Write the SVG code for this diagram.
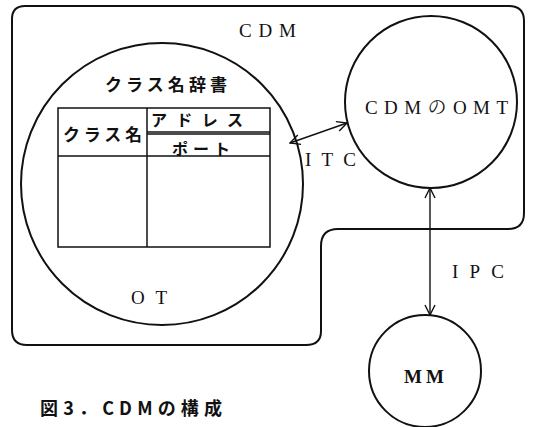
<svg xmlns="http://www.w3.org/2000/svg" width="533" height="427" viewBox="0 0 533 427">
<defs>
<style>
.ln{fill:none;stroke:#111;stroke-width:2;stroke-linecap:round;stroke-linejoin:round}
.tb{fill:none;stroke:#111;stroke-width:1.5}
.ar{fill:none;stroke:#111;stroke-width:1.4}
.lat{font-family:"Liberation Serif","Noto Serif CJK JP","Noto Sans CJK JP",serif;fill:#111}
.jp{font-family:"Noto Sans CJK JP","Noto Sans CJK SC",sans-serif;font-weight:bold;fill:#111}
</style>
<marker id="ah" viewBox="0 0 12 12" refX="11" refY="6" markerWidth="12" markerHeight="12" markerUnits="userSpaceOnUse" orient="auto-start-reverse">
<path d="M1,1 L11,6 L1,11" fill="none" stroke="#111" stroke-width="1.4"/>
</marker>
</defs>
<rect width="533" height="427" fill="#fff"/>
<g id="cdm">
<path class="ln" d="M25,6 H509 Q524,6 524,21 V213 Q524,229 508,229 H338 Q321,229 321,246 V331 Q321,345 306,345 H27 Q12,345 12,330 V19 Q12,6 25,6 Z"/>
<text class="lat" x="239" y="37" font-size="19" textLength="57" lengthAdjust="spacing">CDM</text>
</g>
<g id="ot">
<circle class="ln" cx="162" cy="184" r="141"/>
<text class="jp" x="105" y="91" font-size="17" textLength="122" lengthAdjust="spacing">クラス名辞書</text>
<g id="table">
<rect class="tb" x="58" y="108" width="212" height="139"/>
<line class="tb" x1="147" y1="108" x2="147" y2="247"/>
<line class="tb" x1="147" y1="132" x2="270" y2="132"/>
<line class="tb" x1="147" y1="134" x2="270" y2="134"/>
<line class="tb" x1="58" y1="156" x2="270" y2="156"/>
<text class="jp" x="63" y="141" font-size="17" textLength="79" lengthAdjust="spacing">クラス名</text>
<text class="jp" x="151" y="126" font-size="16" textLength="92" lengthAdjust="spacing">アドレス</text>
<text class="jp" x="172" y="155" font-size="16" textLength="58" lengthAdjust="spacing">ポート</text>
</g>
<text class="lat" x="131" y="304" font-size="19" textLength="36" lengthAdjust="spacing">OT</text>
</g>
<g id="omt">
<circle class="ln" cx="431" cy="102" r="86"/>
<text class="lat" x="365" y="114" font-size="19" textLength="143" lengthAdjust="spacing">CDMのOMT</text>
</g>
<g id="mm">
<circle class="ln" cx="425" cy="371" r="56" stroke-width="2.5"/>
<text class="lat" x="404" y="383" font-size="19" font-weight="bold" textLength="40" lengthAdjust="spacing">MM</text>
</g>
<g id="connectors">
<line class="ar" x1="290" y1="143" x2="347" y2="123" marker-start="url(#ah)" marker-end="url(#ah)"/>
<line class="ar" x1="430" y1="188" x2="430" y2="315" marker-start="url(#ah)" marker-end="url(#ah)"/>
<text class="lat" x="305" y="166" font-size="19" textLength="51" lengthAdjust="spacing">ITC</text>
<text class="lat" x="452" y="278" font-size="19" textLength="52" lengthAdjust="spacing">IPC</text>
</g>
<text class="jp" x="40" y="415" font-size="18" font-weight="500" textLength="182" lengthAdjust="spacing">図3．CDMの構成</text>
</svg>
